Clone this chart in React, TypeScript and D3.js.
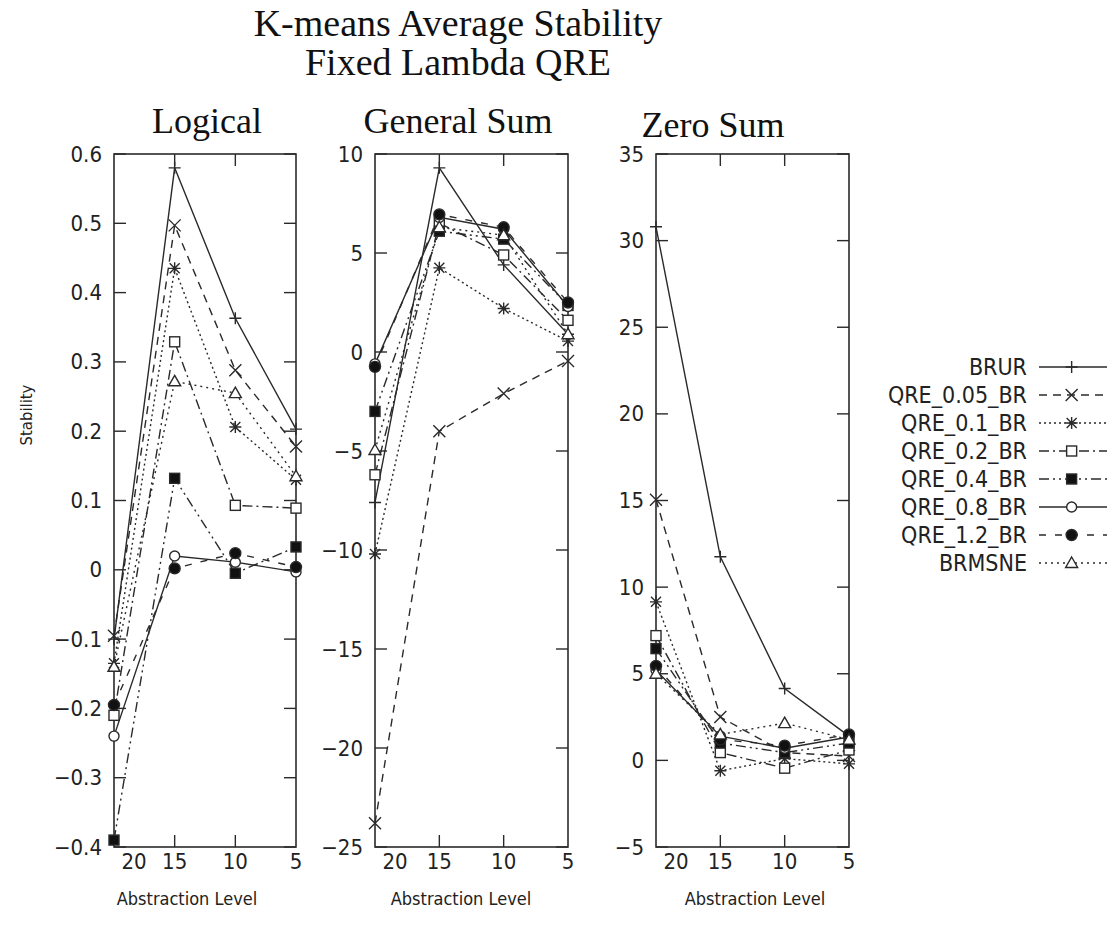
import React from "react";
import * as d3 from "d3";

// ---------- data ----------
const levels = ["20", "15", "10", "5"];
const seriesNames = [
  "BRUR",
  "QRE_0.05_BR",
  "QRE_0.1_BR",
  "QRE_0.2_BR",
  "QRE_0.4_BR",
  "QRE_0.8_BR",
  "QRE_1.2_BR",
  "BRMSNE",
];

// values at abstraction levels 20, 15, 10, 5 (one row per series)
const logicalValues = [
  [-0.1, 0.58, 0.363, 0.203],
  [-0.095, 0.497, 0.288, 0.178],
  [-0.135, 0.435, 0.206, 0.13],
  [-0.21, 0.329, 0.093, 0.089],
  [-0.39, 0.132, -0.005, 0.033],
  [-0.24, 0.02, 0.011, -0.003],
  [-0.195, 0.002, 0.024, 0.004],
  [-0.14, 0.272, 0.255, 0.135],
];
const generalSumValues = [
  [-7.6, 9.3, 4.4, 0.9],
  [-23.8, -4.0, -2.1, -0.45],
  [-10.2, 4.25, 2.2, 0.55],
  [-6.2, 6.5, 4.9, 1.6],
  [-3.0, 6.1, 5.7, 2.35],
  [-0.6, 6.8, 6.2, 2.3],
  [-0.75, 6.95, 6.3, 2.5],
  [-4.95, 6.3, 5.9, 0.9],
];
const zeroSumValues = [
  [30.8, 11.75, 4.15, 1.4],
  [15.05, 2.5, 0.45, 0.25],
  [9.15, -0.6, 0.1, -0.2],
  [7.2, 0.45, -0.45, 0.6],
  [6.45, 1.0, 0.45, 1.0],
  [5.2, 1.4, 0.7, 1.35],
  [5.45, 1.2, 0.85, 1.5],
  [5.0, 1.5, 2.15, 1.2],
];

const logicalTicks = [0.6, 0.5, 0.4, 0.3, 0.2, 0.1, 0, -0.1, -0.2, -0.3, -0.4];
const generalSumTicks = [10, 5, 0, -5, -10, -15, -20, -25];
const zeroSumTicks = [35, 30, 25, 20, 15, 10, 5, 0, -5];

const panelTitles = ["Logical", "General Sum", "Zero Sum"];
const titleLines = ["K-means Average Stability", "Fixed Lambda QRE"];
const xAxisTitle = "Abstraction Level";
const yAxisTitle = "Stability";

// ---------- styles ----------
const INK = "#2a2a2a";
const seriesDash = ["", "8,6", "2,3", "10,4,2,4", "10,4,2,4,2,4", "", "7,9", "2,4"];
const seriesMarker = ["plus", "cross", "star", "square", "squareFill", "circle", "circleFill", "triangle"];

const SANS = "'DejaVu Sans Condensed', 'DejaVu Sans', sans-serif";
const SERIF = "'Liberation Serif', 'Times New Roman', serif";

const TOP = 154;
const BOTTOM = 847;

const panels = [
  { values: logicalValues, ticks: logicalTicks, domain: [-0.4, 0.6], left: 114, right: 296, titleX: 207, titleY: 133, xTitleX: 187, fmt: (t: number) => (Math.abs(t) < 1e-9 ? "0" : d3.format(".1f")(t)) },
  { values: generalSumValues, ticks: generalSumTicks, domain: [-25, 10], left: 375, right: 568, titleX: 458, titleY: 133, xTitleX: 461, fmt: d3.format("d") },
  { values: zeroSumValues, ticks: zeroSumTicks, domain: [-5, 35], left: 656, right: 849, titleX: 713, titleY: 137, xTitleX: 755, fmt: d3.format("d") },
];

function Marker({ type, x, y }: { type: string; x: number; y: number }) {
  const common = { stroke: INK, strokeWidth: 1.4 };
  switch (type) {
    case "plus":
      return <path d={`M${x - 6},${y}H${x + 6}M${x},${y - 6}V${y + 6}`} {...common} fill="none" />;
    case "cross":
      return <path d={`M${x - 6},${y - 6}L${x + 6},${y + 6}M${x - 6},${y + 6}L${x + 6},${y - 6}`} {...common} fill="none" />;
    case "star":
      return (
        <path
          d={`M${x - 6},${y}H${x + 6}M${x},${y - 6}V${y + 6}M${x - 5},${y - 5}L${x + 5},${y + 5}M${x - 5},${y + 5}L${x + 5},${y - 5}`}
          {...common}
          fill="none"
        />
      );
    case "square":
      return <rect x={x - 5} y={y - 5} width={10} height={10} {...common} fill="white" />;
    case "squareFill":
      return <rect x={x - 5} y={y - 5} width={10} height={10} {...common} fill="#111" />;
    case "circle":
      return <circle cx={x} cy={y} r={5} {...common} fill="white" />;
    case "circleFill":
      return <circle cx={x} cy={y} r={5.5} {...common} fill="#111" />;
    case "triangle":
      return <path d={`M${x},${y - 6}L${x + 6},${y + 4.5}L${x - 6},${y + 4.5}Z`} {...common} fill="white" />;
    default:
      return null;
  }
}

function Panel({ p, idx }: { p: (typeof panels)[number]; idx: number }) {
  const x = d3.scalePoint<string>().domain(levels).range([p.left, p.right]);
  const y = d3.scaleLinear().domain(p.domain).range([BOTTOM, TOP]);
  const line = d3
    .line<number>()
    .x((_, i) => x(levels[i]) as number)
    .y((d) => y(d));
  const TL = 12;
  return (
    <g>
      {p.values.map((vals, si) => (
        <path key={"l" + si} d={line(vals) || ""} fill="none" stroke={INK} strokeWidth={1.4} strokeDasharray={seriesDash[si] || undefined} />
      ))}
      <rect x={p.left} y={TOP} width={p.right - p.left} height={BOTTOM - TOP} fill="none" stroke={INK} strokeWidth={1.6} />
      {p.ticks.map((t) => (
        <g key={"y" + t}>
          <line x1={p.left} x2={p.left + TL} y1={y(t)} y2={y(t)} stroke={INK} strokeWidth={1.4} />
          <line x1={p.right} x2={p.right - TL} y1={y(t)} y2={y(t)} stroke={INK} strokeWidth={1.4} />
          <text x={p.left - 12} y={y(t)} textAnchor="end" dominantBaseline="central" fontFamily={SANS} fontSize={22} fill="#222">
            {p.fmt(t)}
          </text>
        </g>
      ))}
      {levels.map((lv, i) => {
        const xv = x(lv) as number;
        return (
          <g key={"x" + lv}>
            {i > 0 && i < levels.length - 1 && (
              <>
                <line x1={xv} x2={xv} y1={BOTTOM} y2={BOTTOM - TL} stroke={INK} strokeWidth={1.4} />
                <line x1={xv} x2={xv} y1={TOP} y2={TOP + TL} stroke={INK} strokeWidth={1.4} />
              </>
            )}
            <text x={xv + (i === 0 ? 20 : 0)} y={869} textAnchor="middle" fontFamily={SANS} fontSize={22} fill="#222">
              {lv}
            </text>
          </g>
        );
      })}
      {p.values.map((vals, si) =>
        vals.map((v, i) => <Marker key={`m${si}-${i}`} type={seriesMarker[si]} x={x(levels[i]) as number} y={y(v)} />)
      )}
      <text x={p.titleX} y={p.titleY} textAnchor="middle" fontFamily={SERIF} fontSize={36} fill="#111">
        {panelTitles[idx]}
      </text>
      <text x={p.xTitleX} y={905} textAnchor="middle" fontFamily={SANS} fontSize={18} fill="#222">
        {xAxisTitle}
      </text>
    </g>
  );
}

function Legend() {
  const y0 = 367;
  const dy = 28;
  const xl = d3.scaleLinear().domain([0, 1]).range([1039, 1107]);
  return (
    <g>
      {seriesNames.map((name, i) => {
        const yy = y0 + i * dy;
        return (
          <g key={name}>
            <text x={1027} y={yy} textAnchor="end" dominantBaseline="central" fontFamily={SANS} fontSize={23} fill="#222">
              {name}
            </text>
            <line x1={xl(0)} x2={xl(1)} y1={yy} y2={yy} stroke={INK} strokeWidth={1.4} strokeDasharray={seriesDash[i] || undefined} />
            <Marker type={seriesMarker[i]} x={xl(0.48)} y={yy} />
          </g>
        );
      })}
    </g>
  );
}

export default function App() {
  return (
    <div style={{ position: "absolute", left: 0, top: 0 }}>
      <svg width={1109} height={934} style={{ display: "block", background: "white" }}>
        <text x={458} y={36} textAnchor="middle" fontFamily={SERIF} fontSize={38} fill="#111">
          {titleLines[0]}
        </text>
        <text x={458} y={75} textAnchor="middle" fontFamily={SERIF} fontSize={38} fill="#111">
          {titleLines[1]}
        </text>
        {panels.map((p, i) => (
          <Panel key={i} p={p} idx={i} />
        ))}
        <text
          transform="translate(26,415) rotate(-90)"
          textAnchor="middle"
          dominantBaseline="central"
          fontFamily={SANS}
          fontSize={16.5}
          fill="#222"
        >
          {yAxisTitle}
        </text>
        <Legend />
      </svg>
    </div>
  );
}
